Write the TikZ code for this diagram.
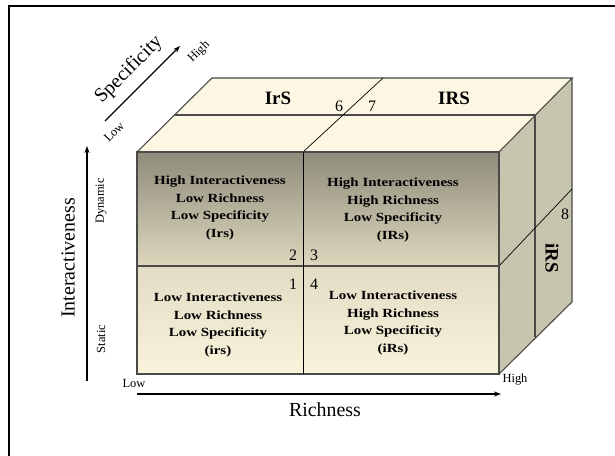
\documentclass[tikz,border=0pt]{standalone}
\usepackage{fontspec}
\setmainfont{Liberation Serif}
\newfontfamily\cellfont[FakeStretch=1.2]{Liberation Serif}
\usetikzlibrary{arrows.meta}
\definecolor{topface}{HTML}{FCF6E2}
\definecolor{sideface}{HTML}{C8C5AF}
\definecolor{darkrow}{HTML}{8F8B7B}
\definecolor{midrow}{HTML}{DDD7BD}
\definecolor{midrowb}{HTML}{E2DCC4}
\definecolor{lightrow}{HTML}{F9F3DC}
\definecolor{edge}{HTML}{4A4A48}
\tikzset{
  celltext/.style={align=center, font=\cellfont\bfseries\fontsize{12.5}{18}\selectfont, inner sep=0pt},
  numtext/.style={font=\fontsize{16}{16}\selectfont, inner sep=0pt},
  bigbold/.style={font=\bfseries\fontsize{19}{19}\selectfont, inner sep=0pt},
  axislabel/.style={font=\fontsize{20}{20}\selectfont, inner sep=0pt},
  smalllabel/.style={font=\fontsize{12.5}{12.5}\selectfont, inner sep=0pt},
  edgeline/.style={draw=edge, line width=1.1pt},
  thinline/.style={draw=black, line width=0.7pt},
  axisarrow/.style={draw=black, line width=1.3pt, -{Stealth[length=7pt,width=5pt]}}
}
\begin{document}
\begin{tikzpicture}[x=1bp,y=-1bp]
\useasboundingbox (0,0) rectangle (615,456);
\fill[white] (0,0) rectangle (615,456);
\draw[line width=1.5pt] (9,6) rectangle (640,480);

% corner coordinates
\coordinate (FTL) at (137,152);
\coordinate (FTR) at (499,152);
\coordinate (FBL) at (137,374);
\coordinate (FBR) at (499,374);
\coordinate (FML) at (137,266);
\coordinate (FMR) at (499,266);
\coordinate (FTM) at (303,152);
\coordinate (FBM) at (303,374);
\coordinate (BTL) at (212,78);
\coordinate (BTR) at (572,78);
\coordinate (BBR) at (572,302);
\coordinate (BTM) at (383,78);
\coordinate (TML) at (175,115);
\coordinate (TMR) at (535,115);
\coordinate (RMB) at (535,337);
\coordinate (BMR) at (572,189);

% faces
\fill[topface] (FTL) -- (BTL) -- (BTR) -- (FTR) -- cycle;
\fill[sideface] (FTR) -- (BTR) -- (BBR) -- (FBR) -- cycle;
\shade[top color=darkrow, bottom color=midrow] (FTL) rectangle (FMR);
\shade[top color=midrowb, bottom color=lightrow] (FML) rectangle (FBR);

% top face lines
\draw[edgeline] (FTL) -- (BTL) -- (BTR) -- (FTR);
\draw[edgeline] (TML) -- (TMR);
\draw[thinline] (FTM) -- (BTM);
% right face lines
\draw[edgeline] (BTR) -- (BBR) -- (FBR);
\draw[edgeline] (TMR) -- (RMB);
\draw[thinline] (FMR) -- (BMR);
% front face
\draw[edgeline] (FTL) rectangle (FBR);
\draw[draw=edge, line width=1.6pt] (FML) -- (FMR);
\draw[thinline] (FTM) -- (FBM);

% cell texts
\node[celltext] (c2) at (220,208) {High Interactiveness\\Low Richness\\Low Specificity\\(Irs)};
\node[celltext] (c3) at (393,210) {High Interactiveness\\High Richness\\Low Specificity\\(IRs)};
\node[celltext] (c1) at (218,325) {Low Interactiveness\\Low Richness\\Low Specificity\\(irs)};
\node[celltext] (c4) at (393,323) {Low Interactiveness\\High Richness\\Low Specificity\\(iRs)};

% numbers
\node[numtext] (n2) at (293,255) {2};
\node[numtext] (n3) at (314,255) {3};
\node[numtext] (n1) at (293,284) {1};
\node[numtext] (n4) at (314,284) {4};
\node[numtext] (n6) at (339,106) {6};
\node[numtext] (n7) at (372,106) {7};
\node[numtext] (n8) at (565,214) {8};

% region labels
\node[bigbold] (irS) at (278,98) {IrS};
\node[bigbold] (IRS) at (454,98) {IRS};
\node[bigbold, rotate=-90] (iRS) at (552,258) {iRS};

% axes
\coordinate (vA) at (87,381);
\coordinate (vB) at (87,146);
\draw[axisarrow] (vA) -- (vB);
\node[axislabel, rotate=90] (inter) at (68,258) {Interactiveness};
\node[smalllabel, rotate=90] (dyn) at (101,201) {Dynamic};
\node[smalllabel, rotate=90] (stat) at (101,339) {Static};

\coordinate (hA) at (137,394);
\coordinate (hB) at (501,394);
\draw[axisarrow] (hA) -- (hB);
\node[axislabel] (rich) at (325,410) {Richness};
\node[smalllabel] (rlow) at (134,383) {Low};
\node[smalllabel] (rhigh) at (515,380) {High};

\coordinate (sA) at (105,121);
\coordinate (sB) at (180,46);
\draw[axisarrow] (sA) -- (sB);
\node[axislabel, rotate=45] (spec) at (129,70) {Specificity};
\node[smalllabel, rotate=45] (slow) at (114,132) {Low};
\node[smalllabel, rotate=45] (shigh) at (199,52) {High};
\end{tikzpicture}
\end{document}
